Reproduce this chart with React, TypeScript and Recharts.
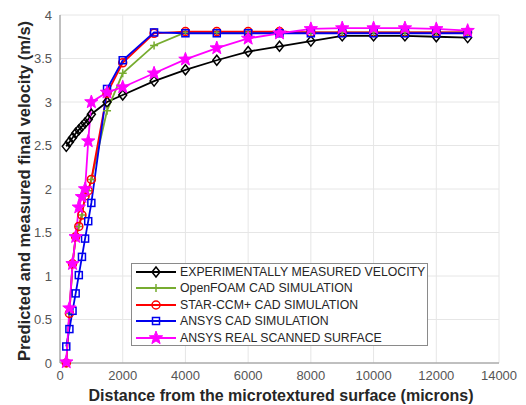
import React from 'react';
import { LineChart, Line, XAxis, YAxis, CartesianGrid } from 'recharts';

const expX = [200, 300, 400, 500, 600, 700, 800, 900, 1000, 1500, 2000, 3000, 4000, 5000, 6000, 7000, 8000, 9000, 10000, 11000, 12000, 13000];
const expY = [2.49, 2.54, 2.59, 2.64, 2.68, 2.72, 2.76, 2.8, 2.86, 3.0, 3.08, 3.24, 3.37, 3.48, 3.58, 3.64, 3.7, 3.76, 3.76, 3.76, 3.75, 3.74];

const simX = [200, 300, 400, 500, 600, 700, 800, 900, 1000, 1500, 2000, 3000, 4000, 5000, 6000, 7000, 8000, 9000, 10000, 11000, 12000, 13000];
const openFoamY = [0, 0.57, 1.14, 1.45, 1.57, 1.7, 1.92, 1.98, 2.11, 2.9, 3.33, 3.65, 3.8, 3.8, 3.8, 3.8, 3.8, 3.8, 3.8, 3.8, 3.8, 3.8];
const starY = [0, 0.57, 1.14, 1.45, 1.57, 1.7, 1.92, 1.98, 2.11, 3.1, 3.45, 3.79, 3.81, 3.81, 3.81, 3.81, 3.8, 3.8, 3.8, 3.8, 3.8, 3.8];
const ansysY = [0.19, 0.39, 0.6, 0.8, 1.01, 1.22, 1.43, 1.63, 1.84, 3.15, 3.48, 3.8, 3.79, 3.79, 3.79, 3.79, 3.79, 3.79, 3.79, 3.79, 3.79, 3.79];
const scannedY = [0.01, 0.63, 1.14, 1.45, 1.79, 1.91, 2.0, 2.55, 3.0, 3.11, 3.17, 3.33, 3.49, 3.62, 3.73, 3.79, 3.84, 3.85, 3.85, 3.85, 3.84, 3.82];

const xTicks = [0, 2000, 4000, 6000, 8000, 10000, 12000, 14000];
const yTicks = [0, 0.5, 1, 1.5, 2, 2.5, 3, 3.5, 4];

const seriesNames = [
  'EXPERIMENTALLY MEASURED VELOCITY',
  'OpenFOAM CAD SIMULATION',
  'STAR-CCM+ CAD SIMULATION',
  'ANSYS CAD SIMULATION',
  'ANSYS REAL SCANNED SURFACE',
];

const toData = (xs: number[], ys: number[]) => xs.map((x, i) => ({ x, y: ys[i] }));

const FONT = '"Liberation Sans", Arial, sans-serif';

const COLORS = ['#000000', '#77ac30', '#ff0000', '#0000ee', '#ff00ff'];

const Diamond = (cx: number, cy: number, c: string) => (
  <path d={`M${cx},${cy - 5} L${cx + 4},${cy} L${cx},${cy + 5} L${cx - 4},${cy} Z`} stroke={c} strokeWidth={1.5} fill="none" />
);
const Plus = (cx: number, cy: number, c: string) => (
  <path d={`M${cx - 4},${cy} L${cx + 4},${cy} M${cx},${cy - 4} L${cx},${cy + 4}`} stroke={c} strokeWidth={1.5} fill="none" />
);
const Circ = (cx: number, cy: number, c: string) => (
  <circle cx={cx} cy={cy} r={4} stroke={c} strokeWidth={1.5} fill="none" />
);
const Sq = (cx: number, cy: number, c: string) => (
  <rect x={cx - 3.5} y={cy - 3.5} width={7} height={7} stroke={c} strokeWidth={1.5} fill="none" />
);
const Star = (cx: number, cy: number, c: string) => {
  const pts: string[] = [];
  for (let i = 0; i < 10; i++) {
    const r = i % 2 === 0 ? 7 : 2.9;
    const a = -Math.PI / 2 + (i * Math.PI) / 5;
    pts.push(`${cx + r * Math.cos(a)},${cy + r * Math.sin(a)}`);
  }
  return <polygon points={pts.join(' ')} fill={c} stroke={c} strokeWidth={1} />;
};

const MARKERS = [Diamond, Plus, Circ, Sq, Star];

const makeDot = (idx: number) => (props: any) => {
  const { cx, cy, index } = props;
  if (cx == null || cy == null) return <g key={index} />;
  return <g key={`d${idx}-${index}`}>{MARKERS[idx](cx, cy, COLORS[idx])}</g>;
};

const datasets = [
  toData(expX, expY),
  toData(simX, openFoamY),
  toData(simX, starY),
  toData(simX, ansysY),
  toData(simX, scannedY),
];

const LegendBox = () => (
  <div
    style={{
      position: 'absolute',
      left: 131,
      top: 263,
      width: 297,
      height: 83,
      boxSizing: 'border-box',
      border: '1px solid #8a8a8a',
      background: '#ffffff',
      fontFamily: FONT,
    }}
  >
    {seriesNames.map((name, i) => (
      <div key={name} style={{ position: 'absolute', left: 0, top: 0 + i * 16.4, height: 16, width: 296, display: 'flex', alignItems: 'center' }}>
        <svg width={46} height={16} style={{ flex: 'none' }}>
          <line x1={4} y1={8} x2={44} y2={8} stroke={COLORS[i]} strokeWidth={1.8} />
          {MARKERS[i](24, 8, COLORS[i])}
        </svg>
        <span style={{ fontSize: 12.3, color: '#262626', whiteSpace: 'nowrap', marginLeft: 2 }}>{name}</span>
      </div>
    ))}
  </div>
);

export default function App() {
  return (
    <div style={{ position: 'absolute', left: 0, top: 0, width: 526, height: 405, background: '#fff' }}>
      <LineChart width={526} height={405} margin={{ top: 15, right: 27, bottom: 20, left: 15 }}>
        <CartesianGrid stroke="#e6e6e6" strokeWidth={1} />
        <XAxis
          type="number"
          dataKey="x"
          domain={[0, 14000]}
          ticks={xTicks}
          height={22}
          tickLine={false}
          axisLine={{ stroke: '#8c8c8c' }}
          tick={{ fill: '#555', fontSize: 13, fontFamily: FONT }}
          allowDataOverflow
          label={{
            content: () => (
              <text x={281} y={401} textAnchor="middle" fontFamily={FONT} fontSize={16} fontWeight="bold" fill="#262626">
                Distance from the microtextured surface (microns)
              </text>
            ),
          }}
        />
        <YAxis
          type="number"
          domain={[0, 4]}
          ticks={yTicks}
          width={45}
          tickLine={false}
          axisLine={{ stroke: '#8c8c8c' }}
          tick={{ fill: '#555', fontSize: 13, fontFamily: FONT }}
          label={{
            content: () => (
              <text x={30} y={191} transform="rotate(-90, 30, 191)" textAnchor="middle" fontFamily={FONT} fontSize={16.5} fontWeight="bold" fill="#262626">
                Predicted and measured final velocity (m/s)
              </text>
            ),
          }}
        />
        {datasets.map((d, i) => (
          <Line
            key={seriesNames[i]}
            data={d}
            dataKey="y"
            type="linear"
            stroke={COLORS[i]}
            strokeWidth={1.8}
            dot={makeDot(i)}
            activeDot={false}
            isAnimationActive={false}
            name={seriesNames[i]}
          />
        ))}
      </LineChart>
      <LegendBox />
    </div>
  );
}
